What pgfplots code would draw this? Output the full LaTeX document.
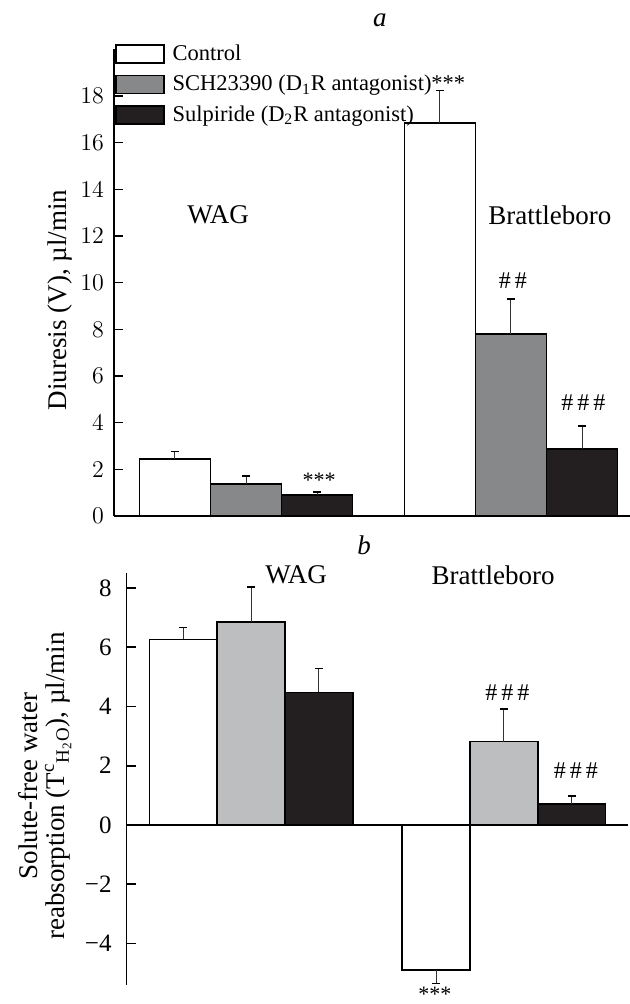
\documentclass[border=0pt]{standalone}
\usepackage{fontspec}
\setmainfont{Liberation Serif}
\usepackage{pgfplots}
\pgfplotsset{compat=1.18}
\definecolor{barblack}{HTML}{231F20}
\definecolor{graytop}{HTML}{87888A}
\definecolor{graybot}{HTML}{BDBEC0}
\begin{document}
\begin{tikzpicture}
\useasboundingbox (0,0) rectangle (315pt,502pt);
\pgfplotsset{
  mybase/.style={
    scale only axis,
    anchor=south west,
    ybar, bar width=1, bar shift=0pt,
    xtick=\empty,
    axis y line=left,
    tick align=inside,
    major tick length=4.5pt,
    ytick style={line width=0.8pt, black},
    tick label style={font=\fontsize{12.5}{14}\selectfont},
    clip=false,
    error bars/y dir=plus,
    error bars/y explicit,
    error bars/error bar style={line width=0.5pt, black!80},
    error bars/error mark options={line width=0.6pt, black, mark size=2pt, rotate=90},
  },
  fixlines/.style={
    axis line style={-, line width=0.8pt, black},
    every inner x axis line/.append style={-},
    every outer x axis line/.append style={-},
    every inner y axis line/.append style={-},
    every outer y axis line/.append style={-},
  },
  bs/.style={draw=black, line width=0.8pt, bar shift=0pt},
}
% ---------------- panel a ----------------
\begin{axis}[mybase,
  at={(57pt,244pt)}, width=258pt, height=233.33pt,
  xmin=-1.859, xmax=5.408, ymin=0, ymax=20,
  ytick={0,2,...,18},
  axis x line=bottom,
  fixlines,
  yticklabel style={xshift=-1.5pt},
  ylabel={Diuresis (V), µl/min},
  ylabel style={at={(axis description cs:-0.1047,0.463)}, anchor=center, font=\fontsize{13.5}{16}\selectfont},
  legend style={draw=none, fill=none, at={(axis description cs:0.002,1.011)}, anchor=north west,
    inner sep=0pt, outer sep=0pt, row sep=5.5pt, font=\fontsize{11.25}{13}\selectfont,
    nodes={inner sep=0pt}, /tikz/every odd column/.append style={column sep=4pt}},
  legend cell align=left,
  legend image code/.code={\draw[#1, line width=0.8pt] (0pt,-4.5pt) rectangle (24pt,4.5pt);},
]
\addplot[bs, fill=white] table[x=x, y=y, y error=e] {
x y e
-1 2.45 0.30
2.732 16.83 1.40
};
\addlegendentry{Control}
\addplot[bs, fill=graytop] table[x=x, y=y, y error=e] {
x y e
0 1.36 0.35
3.732 7.79 1.51
};
\addlegendentry{SCH23390 (D\textsubscript{1}R antagonist)***}
\addplot[bs, fill=barblack] table[x=x, y=y, y error=e] {
x y e
1 0.91 0.12
4.732 2.87 0.99
};
\addlegendentry{Sulpiride (D\textsubscript{2}R antagonist)}
\node[font=\fontsize{13.5}{16}\selectfont\itshape] at (axis cs:1.887,21.26) {a};
\node[font=\fontsize{13.5}{16}\selectfont] at (axis cs:-0.394,12.9) {WAG};
\node[font=\fontsize{13.5}{16}\selectfont] at (axis cs:4.28,12.9) {Brattleboro};
\node[font=\fontsize{11}{12}\selectfont] at (axis cs:1.03,1.55) {***};
\node[font=\fontsize{12}{13}\selectfont] at (axis cs:3.76,10.1) {\#\hspace{2pt}\#};
\node[font=\fontsize{12}{13}\selectfont] at (axis cs:4.75,4.84) {\#\hspace{2pt}\#\hspace{2pt}\#};
\end{axis}
% ---------------- panel b ----------------
\begin{axis}[mybase,
  at={(63.3pt,9.45pt)}, width=250.7pt, height=205.9pt,
  xmin=-1.835, xmax=5.56, ymin=-5.4, ymax=8.49,
  ytick={-4,-2,0,2,4,6,8},
  yticklabels={−4,−2,0,2,4,6,8},
  axis x line=middle,
  fixlines,
  hide obscured y ticks=false,
  yticklabel style={xshift=-4pt},
  ylabel={Solute-free water\\reabsorption (T\textsuperscript{c}\textsubscript{H\textsubscript{2}O}), µl/min},
  ylabel style={at={(axis description cs:-0.163,0.4835)}, anchor=center, align=center, font=\fontsize{13.5}{13.5}\selectfont},
]
\addplot[bs, fill=white] table[x=x, y=y, y error=e] {
x y e
-1 6.26 0.41
};
\addplot[bs, fill=white, error bars/y dir=minus] table[x=x, y=y, y error=e] {
x y e
2.73 -4.89 0.45
};
\addplot[bs, fill=graybot] table[x=x, y=y, y error=e] {
x y e
0 6.84 1.19
3.73 2.81 1.10
};
\addplot[bs, fill=barblack] table[x=x, y=y, y error=e] {
x y e
1 4.47 0.81
4.73 0.71 0.27
};
\node[font=\fontsize{13.5}{16}\selectfont\itshape] at (axis cs:1.667,9.44) {b};
\node[font=\fontsize{13.5}{16}\selectfont] at (axis cs:0.664,8.43) {WAG};
\node[font=\fontsize{13.5}{16}\selectfont] at (axis cs:3.57,8.43) {Brattleboro};
\node[font=\fontsize{12}{13}\selectfont] at (axis cs:3.78,4.45) {\#\hspace{2pt}\#\hspace{2pt}\#};
\node[font=\fontsize{12}{13}\selectfont] at (axis cs:4.79,1.85) {\#\hspace{2pt}\#\hspace{2pt}\#};
\node[font=\fontsize{11}{12}\selectfont, inner sep=0pt] at (axis cs:2.71,-5.72) {***};
\end{axis}
\end{tikzpicture}
\end{document}
